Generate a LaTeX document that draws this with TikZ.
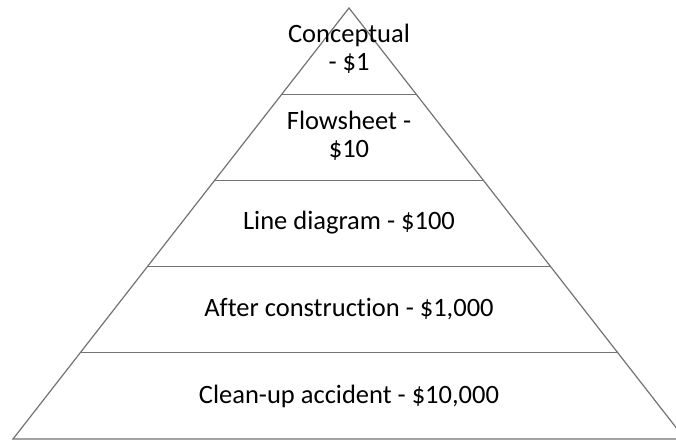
\documentclass[tikz,border=0pt]{standalone}
\usepackage{fontspec}
\setmainfont{Carlito}[Ligatures=NoCommon]
\usetikzlibrary{calc}
\tikzset{
  edge/.style={
    draw = black!55,
    line width = 1.2pt
  },
  label/.style={
    align = center,
    font = \fontsize{26.5}{28}\selectfont,
    inner sep = 0pt
  }
}
\begin{document}
\begin{tikzpicture}[x=1pt,y=-1pt]
        \clip (0,0) rectangle (676,441);
        \fill[white] (0,0) rectangle (676,441);

        \coordinate (apex) at (349,8);
        \coordinate (bl) at (13,439);
        \coordinate (br) at (685,439);

        \draw[edge] (apex) -- (bl) -- (br) -- cycle;

        % layer lines
        \foreach \t [count=\i] in {0.2,0.4,0.6,0.8}{
            \coordinate (l\i) at ($(apex)!\t!(bl)$);
            \coordinate (r\i) at ($(apex)!\t!(br)$);
            \draw[edge] (l\i) -- (r\i);
        }

        \node[label] (conc) at (349,49) {Conceptual\\- \$1};
        \node[label] (flow) at (349,136) {Flowsheet -\\\$10};
        \node[label] (line) at (349,223) {Line diagram - \$100};
        \node[label] (after) at (349,309) {After construction - \$1,000};
        \node[label] (clean) at (349,396) {Clean-up accident - \$10,000};
\end{tikzpicture}
\end{document}
